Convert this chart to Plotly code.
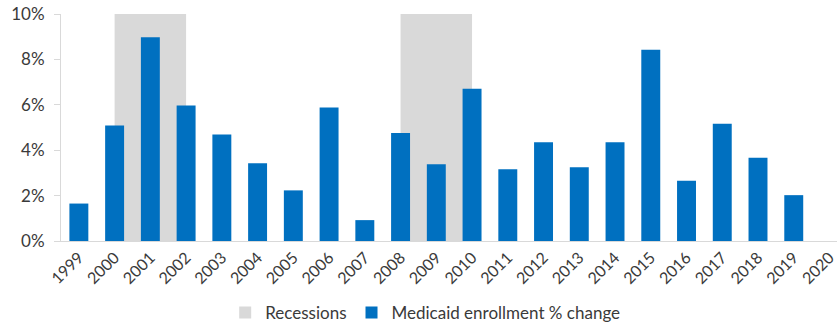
import plotly.graph_objects as go

years = [str(y) for y in range(1999, 2021)]
medicaid_change = [1.65, 5.09, 8.98, 5.97, 4.69, 3.42, 2.23, 5.88, 0.92, 4.76, 3.38,
                   6.71, 3.16, 4.35, 3.25, 4.35, 8.42, 2.65, 5.16, 3.67, 2.02, None]
recession_centers = ["2001", "2009"]
recession_heights = [10, 10]

FONT = "Lato"
TXT = "#3A3A3A"

fig = go.Figure()
fig.add_trace(go.Bar(
    x=recession_centers, y=recession_heights, name="Recessions",
    marker=dict(color="#D9D9D9", line=dict(width=0)), width=2,
    hoverinfo="skip",
))
fig.add_trace(go.Bar(
    x=years, y=medicaid_change, name="Medicaid enrollment % change",
    marker=dict(color="#0070C0", line=dict(width=0)), width=0.53,
))

fig.update_layout(
    width=837, height=324,
    margin=dict(l=61, r=0, t=14, b=83),
    barmode="overlay",
    plot_bgcolor="white", paper_bgcolor="white",
    font=dict(family=FONT, size=17, color=TXT),
    showlegend=True,
    legend=dict(orientation="h", xref="container", yref="container",
                x=0.508, xanchor="center", y=0.034, yanchor="middle",
                font=dict(size=17, color=TXT), traceorder="normal",
                itemwidth=30),
    xaxis=dict(type="category", categoryorder="array", categoryarray=years,
               range=[-0.5, 21.21], showgrid=False, showline=True,
               linecolor="#D9D9D9", linewidth=1, ticks="", tickangle=-45,
               tickfont=dict(size=16, color=TXT)),
    yaxis=dict(range=[0, 10], dtick=2, ticksuffix="%", showgrid=False,
               showline=True, linecolor="#D9D9D9", linewidth=1,
               ticks="outside", ticklen=6, tickcolor="#D9D9D9",
               zeroline=False, ticklabelstandoff=6,
               tickfont=dict(size=17, color=TXT)),
)

fig.write_html("out.html")
